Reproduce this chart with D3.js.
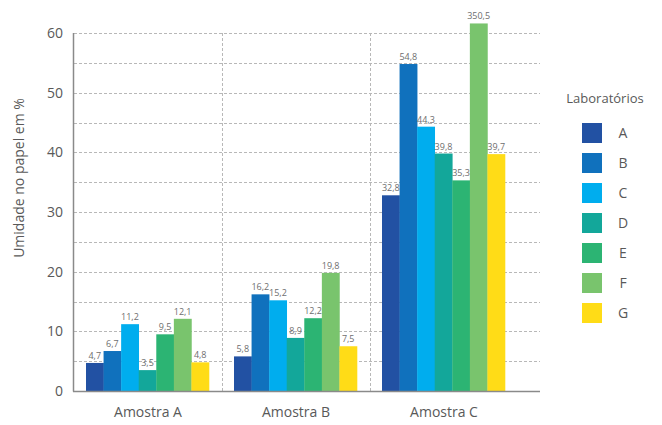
<!DOCTYPE html>
<html>
<head>
<meta charset="utf-8">
<script src="https://cdn.jsdelivr.net/npm/d3@7"></script>
<style>
  body { margin: 0; background: #fff; }
  text { font-family: "Open Sans", sans-serif; }
</style>
</head>
<body>
<script>
const groups = ['Amostra A', 'Amostra B', 'Amostra C'];
const labs = ['A', 'B', 'C', 'D', 'E', 'F', 'G'];
const labColors = ['#2251a3', '#1071bd', '#00adee', '#13a79a', '#2cb473', '#79c46d', '#ffdc17'];
const valuesA = [4.7, 6.7, 11.2, 3.5, 9.5, 12.1, 4.8];
const valuesB = [5.8, 16.2, 15.2, 8.9, 12.2, 19.8, 7.5];
const valuesC = [32.8, 54.8, 44.3, 39.8, 35.3, 350.5, 39.7];
const yTicks = [0, 10, 20, 30, 40, 50, 60];
const gridValues = [5, 10, 15, 20, 25, 30, 35, 40, 45, 50, 55, 60];
const barCap = 61.6; // the 350,5 bar is cut just above the top

const width = 662, height = 425;
const seriesByGroup = [valuesA, valuesB, valuesC];

let svg = d3.select('body')
  .append('svg')
  .attr('width', width)
  .attr('height', height);

let y = d3.scaleLinear().domain([0, 60]).range([391, 33]);
let x0 = d3.scaleBand().domain(groups).range([74, 518]).paddingInner(0).paddingOuter(0);
let x1 = d3.scaleBand().domain(labs).range([12, x0.bandwidth() - 13]).padding(0);
let axisRight = 540;

// grid lines
svg.append('g')
  .selectAll('line')
  .data(gridValues)
  .enter()
  .append('line')
  .attr('x1', 74)
  .attr('x2', axisRight)
  .attr('y1', d => Math.round(y(d)) + 0.5)
  .attr('y2', d => Math.round(y(d)) + 0.5)
  .attr('stroke', '#b8b8b8')
  .attr('stroke-dasharray', '3,2');

// vertical separators between groups
svg.append('g')
  .selectAll('line')
  .data(groups.slice(1))
  .enter()
  .append('line')
  .attr('x1', d => Math.round(x0(d)) + 0.5)
  .attr('x2', d => Math.round(x0(d)) + 0.5)
  .attr('y1', y(60))
  .attr('y2', y(0))
  .attr('stroke', '#b8b8b8')
  .attr('stroke-dasharray', '3,2');

// bars
let group = svg.selectAll('g.group')
  .data(groups)
  .enter()
  .append('g')
  .attr('class', 'group')
  .attr('transform', d => `translate(${x0(d)},0)`);

let bars = group.selectAll('g.bar')
  .data((d, i) => seriesByGroup[i].map((v, j) => ({ lab: labs[j], value: v, color: labColors[j] })))
  .enter()
  .append('g')
  .attr('class', 'bar');

bars.append('rect')
  .attr('x', d => x1(d.lab))
  .attr('width', x1.bandwidth() + 0.3)
  .attr('y', d => y(Math.min(d.value, barCap)))
  .attr('height', d => y(0) - y(Math.min(d.value, barCap)))
  .attr('fill', d => d.color);

bars.append('text')
  .attr('x', d => x1(d.lab) + x1.bandwidth() / 2)
  .attr('y', d => y(Math.min(d.value, barCap)) - 4)
  .attr('text-anchor', 'middle')
  .attr('font-size', 9)
  .attr('fill', '#6e6e6e')
  .text(d => d3.format('.1f')(d.value).replace('.', ','));

// axes lines
svg.append('line')
  .attr('x1', 73.5).attr('x2', 73.5)
  .attr('y1', y(60)).attr('y2', y(0) + 0.5)
  .attr('stroke', '#8a8a8a').attr('stroke-width', 1.5);
svg.append('line')
  .attr('x1', 73).attr('x2', axisRight)
  .attr('y1', y(0) + 0.5).attr('y2', y(0) + 0.5)
  .attr('stroke', '#8a8a8a').attr('stroke-width', 1.5);

// y tick labels
svg.append('g')
  .selectAll('text')
  .data(yTicks)
  .enter()
  .append('text')
  .attr('x', 63)
  .attr('y', d => y(d) + 5)
  .attr('text-anchor', 'end')
  .attr('font-size', 14)
  .attr('fill', '#595959')
  .text(d => d);

// x labels
svg.append('g')
  .selectAll('text')
  .data(groups)
  .enter()
  .append('text')
  .attr('x', d => x0(d) + x0.bandwidth() / 2)
  .attr('y', 417)
  .attr('text-anchor', 'middle')
  .attr('font-size', 14)
  .attr('fill', '#595959')
  .text(d => d);

// y axis title
svg.append('text')
  .attr('transform', `translate(24, 178) rotate(-90)`)
  .attr('text-anchor', 'middle')
  .attr('font-size', 14)
  .attr('fill', '#595959')
  .text('Umidade no papel em %');

// legend
let legend = svg.append('g').attr('transform', 'translate(582, 0)');
legend.append('text')
  .attr('x', 23)
  .attr('y', 103)
  .attr('text-anchor', 'middle')
  .attr('font-size', 13)
  .attr('fill', '#595959')
  .text('Laboratórios');

let legendItem = legend.selectAll('g.item')
  .data(labs)
  .enter()
  .append('g')
  .attr('class', 'item')
  .attr('transform', (d, i) => `translate(0, ${123 + i * 30})`);

legendItem.append('rect')
  .attr('width', 20)
  .attr('height', 20)
  .attr('fill', (d, i) => labColors[i]);

legendItem.append('text')
  .attr('x', 41)
  .attr('y', 15)
  .attr('text-anchor', 'middle')
  .attr('font-size', 14)
  .attr('fill', '#595959')
  .text(d => d);
</script>
</body>
</html>
